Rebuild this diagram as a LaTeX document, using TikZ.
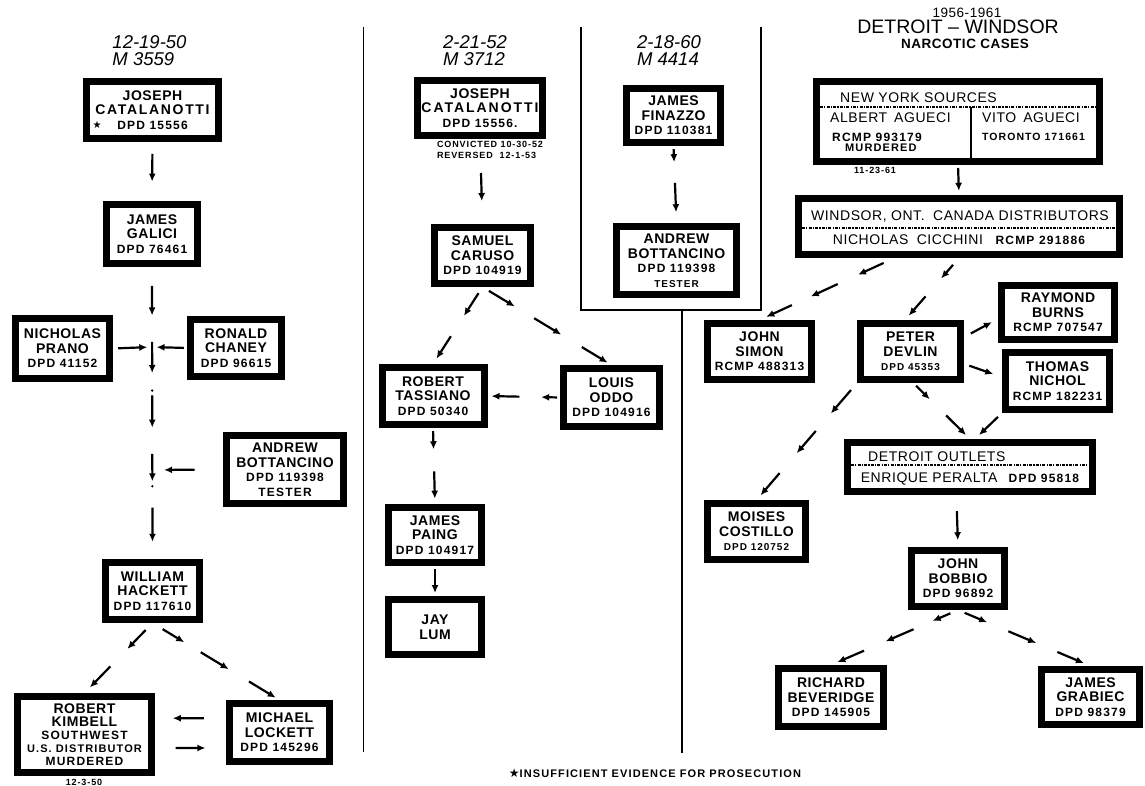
\documentclass[tikz,border=0pt]{standalone}
\usepackage{fontspec}
\setmainfont{Liberation Sans}
\newfontfamily\boxfont{Liberation Sans}[LetterSpace=4]
\newfontfamily\numfont{Liberation Sans}[LetterSpace=10]
\newfontfamily\symfont{DejaVu Sans}
\usetikzlibrary{arrows.meta, calc}

\newcommand{\dpd}[2][12]{{\numfont\bfseries\fontsize{#1}{14}\selectfont #2}}
\newcommand{\spaced}[2]{{\addfontfeature{LetterSpace=#1}#2}}
\newcommand{\brokenlink}[3]{%
  \foreach \ta/\tb in {#3}
    \draw[flow] ($(#1)!\ta!(#2)$) -- ($(#1)!\tb!(#2)$);}

\tikzset{
  person/.style={draw, line width=7pt, fill=white, align=center, inner sep=1pt,
    font=\boxfont\bfseries\fontsize{14}{14.5}\selectfont},
  groupbox/.style={draw, line width=7pt, fill=white, inner sep=0pt},
  boxsize/.style 2 args={minimum width=#1pt, minimum height=#2pt},
  boxtext/.style={inner sep=0pt, text depth=0pt, font=\boxfont\fontsize{14}{14}\selectfont},
  casehead/.style={inner sep=0pt, align=left, font=\itshape\fontsize{18.5}{16.5}\selectfont},
  smallnote/.style={inner sep=0pt, align=left, font=\numfont\bfseries\fontsize{9}{11}\selectfont},
  flow/.style={line width=2.2pt, -{Latex[length=8pt,width=7pt]}},
  sepline/.style={line width=1.3pt},
  divider/.style={line width=2.6pt, dash pattern=on 3pt off 1.2pt on 1.2pt off 1.2pt},
}

\begin{document}
\begin{tikzpicture}[x=1pt, y=-1pt]
  \path[use as bounding box, fill=white] (0,0) rectangle (1145,786);

  % column rules
  \draw[sepline] (363.5,27) -- (363.5,752);
  \draw[sepline] (581,27) -- (581,310) -- (761,310) -- (761,27);
  \draw[sepline] (682,310) -- (682,753);

  % case 12-19-50
  \node[casehead] (headA) at (149.5,50.5) {12-19-50\\M 3559};
  \node[person, boxsize={132}{57}] (catalA) at (152.5,110) {JOSEPH\\\spaced{12}{CATALANOTTI}\\\dpd{DPD 15556}};
  \node[inner sep=0pt, font=\symfont\fontsize{10}{10}\selectfont] (starA) at (97,125) {★};
  \node[person, boxsize={91}{59}] (galici) at (152,234) {JAMES\\GALICI\\\dpd{DPD 76461}};
  \node[person, boxsize={94}{60}] (prano) at (62.5,348.5) {NICHOLAS\\PRANO\\\dpd{DPD 41152}};
  \node[person, boxsize={91}{57}] (chaney) at (236,348) {RONALD\\CHANEY\\\dpd{DPD 96615}};
  \node[person, boxsize={117}{68}] (bottA) at (285,469.5) {ANDREW\\BOTTANCINO\\\dpd{DPD 119398}\\\dpd{TESTER}};
  \node[person, boxsize={94}{57}] (hackett) at (152.5,591) {WILLIAM\\HACKETT\\\dpd{DPD 117610}};
  \node[person, boxsize={134}{76}, font=\boxfont\bfseries\fontsize{14}{13}\selectfont] (kimbell) at (84.5,734.5)
    {ROBERT\\KIMBELL\\\dpd{SOUTHWEST}\\\dpd[11]{U.S. DISTRIBUTOR}\\\dpd{MURDERED}};
  \node[smallnote] (kimbelldate) at (84,782) {12-3-50};
  \node[person, boxsize={100}{58}] (lockett) at (279.5,732.5) {MICHAEL\\LOCKETT\\\dpd{DPD 145296}};

  \coordinate (tapA) at (152,347);
  \coordinate (tapB) at (152,470);
  \brokenlink{catalA.south}{galici.north}{0.2/0.67}
  \brokenlink{galici.south}{hackett.north}{0.065/0.166, 0.256/0.363, 0.44/0.55, 0.64/0.734, 0.824/0.941}
  \fill ($(galici.south)!0.423!(hackett.north)$) circle (1.3);
  \fill ($(galici.south)!0.751!(hackett.north)$) circle (1.3);
  \brokenlink{prano.east}{tapA}{0.13/0.88}
  \brokenlink{chaney.west}{tapA}{0.09/0.87}
  \brokenlink{bottA.west}{tapB}{0.40/0.83}
  \brokenlink{hackett.south}{kimbell.north}{0.10/0.37, 0.62/0.92}
  \brokenlink{hackett.south}{lockett.north}{0.08/0.25, 0.38/0.60, 0.76/0.97}
  \brokenlink{lockett.165}{kimbell.13}{0.31/0.75}
  \brokenlink{kimbell.-11}{lockett.196}{0.29/0.71}

  % case 2-21-52
  \node[casehead] (headB) at (475,50.5) {2-21-52\\M 3712};
  \node[person, boxsize={125}{55}] (catalB) at (480,108) {JOSEPH\\\spaced{14}{CATALANOTTI}\\\dpd{DPD 15556.}};
  \node[smallnote] (verdict) at (490,149.5) {CONVICTED 10-30-52\\REVERSED\ \ 12-1-53};
  \node[person, boxsize={96}{56}] (caruso) at (482.5,255.5) {SAMUEL\\CARUSO\\\dpd{DPD 104919}};
  \node[person, boxsize={102}{57}] (tassiano) at (433,396) {ROBERT\\TASSIANO\\\dpd{DPD 50340}};
  \node[person, boxsize={96}{58}] (oddo) at (611.5,397.5) {LOUIS\\ODDO\\\dpd{DPD 104916}};
  \node[person, boxsize={93}{55}] (paing) at (435,535) {JAMES\\PAING\\\dpd{DPD 104917}};
  \node[person, boxsize={93}{55}] (lum) at (435,627) {JAY\\LUM};

  \brokenlink{catalB.south}{caruso.north}{0.40/0.73}
  \brokenlink{caruso.south}{tassiano.north}{0.08/0.375, 0.64/0.93}
  \brokenlink{caruso.south}{oddo.north}{0.05/0.25, 0.40/0.61, 0.77/0.97}
  \brokenlink{oddo.west}{tassiano.east}{0.04/0.26, 0.56/0.945}
  \brokenlink{tassiano.south}{paing.north}{0.04/0.28, 0.57/0.93}
  \brokenlink{paing.south}{lum.north}{0.1/0.9}

  % case 2-18-60
  \node[casehead] (headC) at (669,50.5) {2-18-60\\M 4414};
  \node[person, boxsize={94}{54}] (finazzo) at (673.5,115.5) {JAMES\\FINAZZO\\\dpd{DPD 110381}};
  \node[person, boxsize={120}{68}] (bottB) at (676.5,260.5) {ANDREW\\BOTTANCINO\\\dpd{DPD 119398}\\\dpd[10]{TESTER}};
  \brokenlink{finazzo.south}{bottB.north}{0.04/0.21, 0.48/0.86}

  % Detroit - Windsor
  \node[inner sep=0pt, font=\boxfont\fontsize{13.5}{14}\selectfont] (years) at (967,12.5) {1956-1961};
  \node[inner sep=0pt, font=\fontsize{19.5}{20}\selectfont] (title) at (958,26.5) {DETROIT -- WINDSOR};
  \node[inner sep=0pt, font=\boxfont\bfseries\fontsize{13.5}{14}\selectfont] (subtitle) at (965,43.5) {NARCOTIC CASES};

  \node[groupbox, boxsize={283}{80}] (nysrc) at (958,121.5) {};
  \draw[divider] (820,107) -- (1096,107);
  \draw[sepline] (971,107) -- (971,158);
  \node[boxtext, anchor=west] (nyhead) at (840,98) {NEW YORK SOURCES};
  \node[boxtext, anchor=west] (albert) at (830,118) {ALBERT\hspace{0.5em}AGUECI};
  \node[boxtext, anchor=west] (albertid) at (832,137) {\dpd{RCMP 993179}};
  \node[boxtext, anchor=west] (albertfate) at (845,148) {\dpd[11]{MURDERED}};
  \node[boxtext, anchor=west] (vito) at (982,118) {VITO\hspace{0.5em}AGUECI};
  \node[boxtext, anchor=west] (vitoid) at (982,137) {\dpd[10.5]{TORONTO 171661}};
  \node[smallnote] (albertdate) at (875,170) {11-23-61};

  \node[groupbox, boxsize={321}{56}] (windsor) at (959,226.5) {};
  \draw[divider] (802,228) -- (1116,228);
  \node[boxtext] (windsorhead) at (960,216) {WINDSOR, ONT.\hspace{0.6em}CANADA DISTRIBUTORS};
  \node[boxtext] (cicchini) at (959,240) {NICHOLAS\hspace{0.6em}CICCHINI\hspace{0.9em}\dpd{RCMP 291886}};

  \node[person, boxsize={104}{56}] (simon) at (759.5,351.5) {JOHN\\SIMON\\\dpd{RCMP 488313}};
  \node[person, boxsize={100}{56}] (devlin) at (910.5,351.5) {PETER\\DEVLIN\\\dpd[10]{DPD 45353}};
  \node[person, boxsize={113}{54}] (burns) at (1058,312.5) {RAYMOND\\BURNS\\\dpd{RCMP 707547}};
  \node[person, boxsize={104}{57}] (nichol) at (1057.5,381) {THOMAS\\NICHOL\\\dpd{RCMP 182231}};

  \node[groupbox, boxsize={245}{49}] (outlets) at (970,467) {};
  \draw[divider] (851,465) -- (1089,465);
  \node[boxtext, anchor=west] (outletshead) at (868,457) {DETROIT OUTLETS};
  \node[boxtext] (peralta) at (970,478) {ENRIQUE PERALTA\hspace{0.8em}\dpd{DPD 95818}};

  \node[person, boxsize={98}{56}] (costillo) at (756.5,531.5) {MOISES\\COSTILLO\\\dpd[10]{DPD 120752}};
  \node[person, boxsize={93}{56}] (bobbio) at (958,578.5) {JOHN\\BOBBIO\\\dpd{DPD 96892}};
  \node[person, boxsize={105}{58}] (beveridge) at (831,697.5) {RICHARD\\BEVERIDGE\\\dpd{DPD 145905}};
  \node[person, boxsize={98}{55}] (grabiec) at (1090.5,697) {JAMES\\GRABIEC\\\dpd{DPD 98379}};

  \brokenlink{nysrc.south}{windsor.north}{0.1/0.86}
  \brokenlink{windsor.206}{simon.north}{0.08/0.27, 0.42/0.62, 0.76/0.95}
  \brokenlink{windsor.south}{devlin.100}{0.11/0.33, 0.62/0.93}
  \brokenlink{devlin.15}{burns.186}{0.2/0.82}
  \brokenlink{devlin.-13}{nichol.176}{0.14/0.77}
  \brokenlink{devlin.-85}{outlets.north}{0.05/0.29, 0.58/0.93}
  \brokenlink{nichol.south west}{outlets.80}{0.15/0.85}
  \brokenlink{devlin.south west}{costillo.north}{0.06/0.26, 0.41/0.60, 0.77/0.96}
  \brokenlink{outlets.-116}{bobbio.north}{0.31/0.87}
  \brokenlink{bobbio.south}{beveridge.north}{0.06/0.20, 0.35/0.57, 0.74/0.95}
  \brokenlink{bobbio.south}{grabiec.north}{0.05/0.22, 0.38/0.59, 0.75/0.95}

  \node[inner sep=0pt, font=\numfont\bfseries\fontsize{11}{11}\selectfont] (footnote) at (655,773)
    {{\symfont\fontsize{12}{12}\selectfont ★}INSUFFICIENT EVIDENCE FOR PROSECUTION};
\end{tikzpicture}
\end{document}
